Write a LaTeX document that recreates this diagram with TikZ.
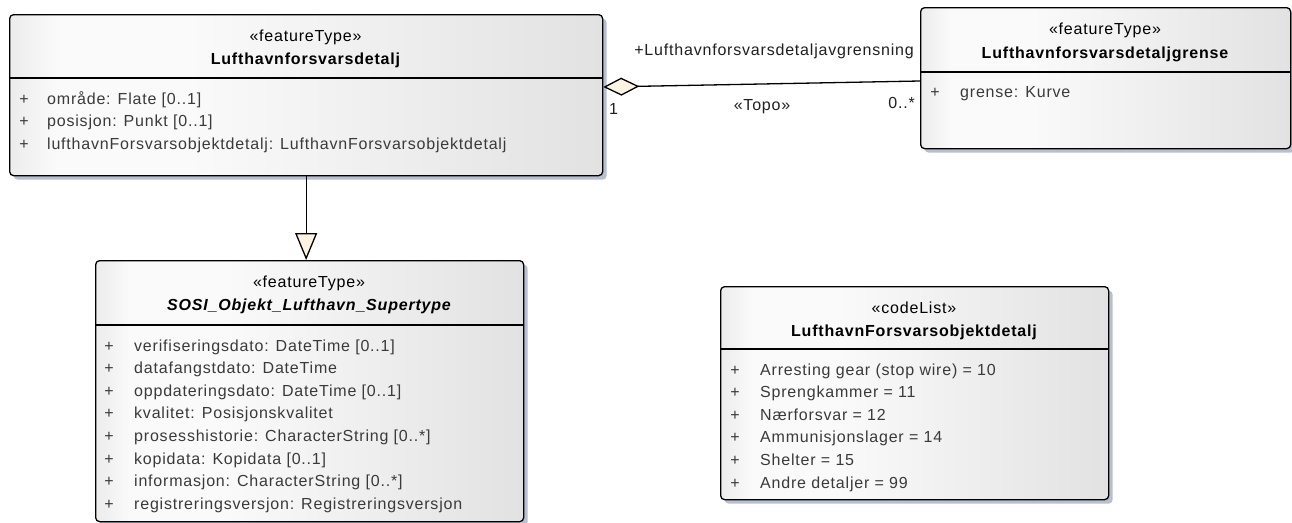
\documentclass[tikz,border=0pt]{standalone}
\usepackage{fontspec}
\setmainfont{Liberation Sans}[LetterSpace=5]
\usetikzlibrary{arrows.meta,shadows,calc}
\definecolor{cream}{HTML}{FDF3E3}
\definecolor{shadowc}{HTML}{B8BFCF}
\definecolor{attrc}{HTML}{3A3A3A}
\definecolor{glassA}{HTML}{ECECEC}
\definecolor{glassB}{HTML}{FAFAFA}
\definecolor{glassC}{HTML}{E2E2E2}
\pgfdeclarehorizontalshading{umlglass}{100bp}{color(0bp)=(glassA); color(25bp)=(glassA); color(29bp)=(glassB); color(40bp)=(glassB); color(75bp)=(glassC); color(100bp)=(glassC)}
\begin{document}
\begin{tikzpicture}[x=1pt,y=-1pt,
  txt/.style={font=\fontsize{16}{19}\selectfont, inner sep=0pt},
  umlbox/.style={draw=black, line width=1.3pt, rounded corners=4pt, shading=umlglass,
    drop shadow={shadow xshift=4pt, shadow yshift=-4pt, fill=shadowc, opacity=1},
    anchor=north west, inner sep=0pt},
  sepline/.style={draw=black, line width=1.3pt},
  stereo/.style={txt, anchor=base, text=black},
  cname/.style={txt, anchor=base, text=black, font=\fontsize{16}{19}\selectfont\bfseries},
  plus/.style={txt, anchor=base, text=attrc},
  attr/.style={txt, anchor=base west, text=attrc},
  lbl/.style={txt, text=black!88},
  conn/.style={draw=black, line width=1.3pt, line join=miter}
]
\useasboundingbox (0,0) rectangle (1292,522);

% ---- Box A: Lufthavnforsvarsdetalj
\node[umlbox, minimum width=593pt, minimum height=161pt] (A) at (9,14) {};
\draw[sepline] (A.west |- 0,78) -- (A.east |- 0,78);
\node[stereo] (Ast) at (305.5,41) {«featureType»};
\node[cname] (Anm) at (305.5,64) {Lufthavnforsvarsdetalj};
\node[plus] (Ap1) at (24,104) {+};
\node[attr] (Aa1) at (47,104) {område: Flate [0..1]};
\node[plus] (Ap2) at (24,126.6) {+};
\node[attr] (Aa2) at (47,126.6) {posisjon: Punkt [0..1]};
\node[plus] (Ap3) at (24,149.2) {+};
\node[attr] (Aa3) at (47,149.2) {lufthavnForsvarsobjektdetalj: LufthavnForsvarsobjektdetalj};

% ---- Box B: Lufthavnforsvarsdetaljgrense
\node[umlbox, minimum width=370pt, minimum height=141pt] (B) at (920,7) {};
\draw[sepline] (B.west |- 0,72) -- (B.east |- 0,72);
\node[stereo] (Bst) at (1105,34) {«featureType»};
\node[cname] (Bnm) at (1105,58) {Lufthavnforsvarsdetaljgrense};
\node[plus] (Bp1) at (935,97) {+};
\node[attr] (Ba1) at (960,97) {grense: Kurve};

% ---- Box C: SOSI_Objekt_Lufthavn_Supertype
\node[umlbox, minimum width=428pt, minimum height=261pt] (C) at (95,260) {};
\draw[sepline] (C.west |- 0,325) -- (C.east |- 0,325);
\node[stereo] (Cst) at (309,287) {«featureType»};
\node[cname, font=\fontsize{16}{19}\selectfont\bfseries\itshape] (Cnm) at (309,310) {SOSI\_Objekt\_Lufthavn\_Supertype};
\foreach \i/\t in {0/{verifiseringsdato: DateTime [0..1]},
                   1/{datafangstdato: DateTime},
                   2/{oppdateringsdato: DateTime [0..1]},
                   3/{kvalitet: Posisjonskvalitet},
                   4/{prosesshistorie: CharacterString [0..*]},
                   5/{kopidata: Kopidata [0..1]},
                   6/{informasjon: CharacterString [0..*]},
                   7/{registreringsversjon: Registreringsversjon}}{
  \node[plus] (Cp\i) at (109,351+22.6*\i) {+};
  \node[attr] (Ca\i) at (134,351+22.6*\i) {\t};
}

% ---- Box D: LufthavnForsvarsobjektdetalj
\node[umlbox, minimum width=388pt, minimum height=213pt] (D) at (720,286) {};
\draw[sepline] (D.west |- 0,349) -- (D.east |- 0,349);
\node[stereo] (Dst) at (914,313) {«codeList»};
\node[cname] (Dnm) at (914,336) {LufthavnForsvarsobjektdetalj};
\foreach \i/\t in {0/{Arresting gear (stop wire) = 10},
                   1/{Sprengkammer = 11},
                   2/{Nærforsvar = 12},
                   3/{Ammunisjonslager = 14},
                   4/{Shelter = 15},
                   5/{Andre detaljer = 99}}{
  \node[plus] (Dp\i) at (735,375+22.6*\i) {+};
  \node[attr] (Da\i) at (760,375+22.6*\i) {\t};
}

% ---- Generalization C -> A
\draw[conn, -{Triangle[length=27pt, width=22pt, fill=cream, line width=1.3pt]}] (A.south) -- (A.south |- C.north);

% ---- Aggregation A <>-- B
\draw[conn, {Diamond[length=36pt, width=18pt, fill=cream, line width=1.3pt]}-] ($(A.north east)+(0,73)$) -- ($(B.north west)+(0,74)$);
\node[lbl, anchor=base east] (rolename) at (914,55) {+Lufthavnforsvarsdetaljavgrensning};
\node[lbl, anchor=base west] (mult1) at (609,114) {1};
\node[lbl, anchor=base] (topo) at (762,110) {«Topo»};
\node[lbl, anchor=base east] (multN) at (915,108) {0..*};
\end{tikzpicture}
\end{document}
